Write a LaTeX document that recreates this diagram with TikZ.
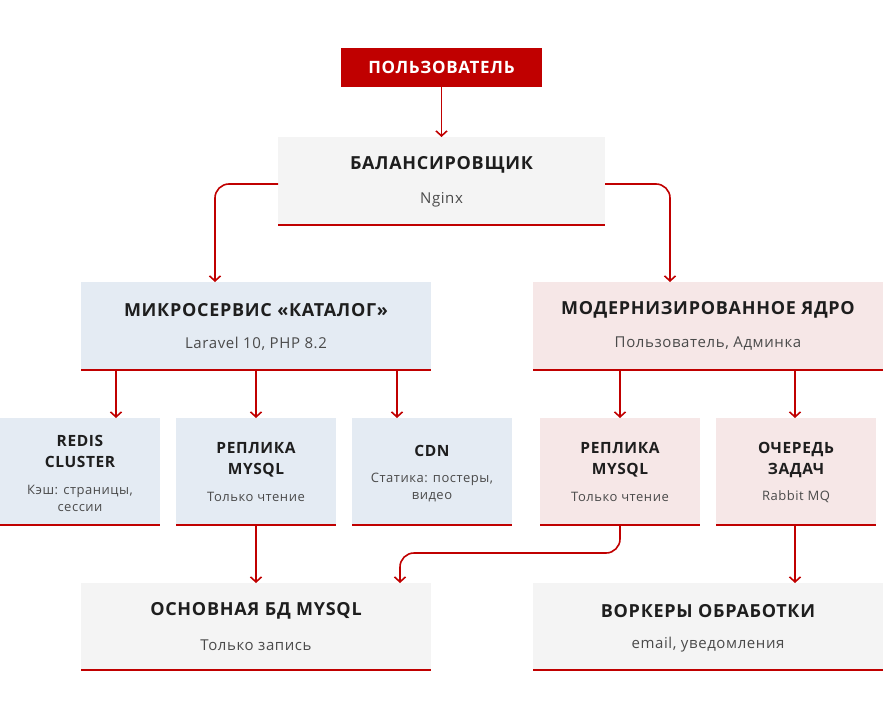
\documentclass[tikz,border=0pt]{standalone}
\usepackage{fontspec}
\setmainfont[LetterSpace=4]{Open Sans}
\usetikzlibrary{arrows.meta}
\definecolor{cred}{HTML}{C00000}
\definecolor{cgray}{HTML}{F4F4F4}
\definecolor{cblue}{HTML}{E4EBF3}
\definecolor{cpink}{HTML}{F6E7E7}
\definecolor{ctxt}{HTML}{1E1E1E}
\definecolor{csub}{HTML}{4A4A4A}
\begin{document}
\begin{tikzpicture}[x=1pt,y=-1pt,
  box/.style={draw=none,inner sep=0pt,align=center,text=ctxt},
  ttl/.style={font=\fontsize{18}{21}\selectfont\bfseries},
  sttl/.style={font=\fontsize{15.5}{21}\selectfont\bfseries},
  sub/.style={font=\fontsize{15}{18}\selectfont,text=csub},
  ssub/.style={font=\fontsize{13}{17}\selectfont,text=csub},
  arr/.style={draw=cred,line width=1.6pt,-{Straight Barb[length=5pt,width=11pt]},rounded corners=14pt}]
\useasboundingbox (0,0) rectangle (883,720);
\newcommand{\bx}[6]{% name,x1,y1,x2,y2,fill
  \fill[#6] (#2,#3) rectangle (#4,#5);
  \draw[cred,line width=2.5pt] (#2,#5) -- (#4,#5);
  \coordinate (#1) at ({(#2+#4)/2},{(#3+#5)/2});}
\node[fill=cred,text=white,minimum width=201pt,minimum height=39pt,font=\fontsize{17}{20}\selectfont\bfseries] (user) at (441.5,67.5) {ПОЛЬЗОВАТЕЛЬ};
\bx{bal}{278}{137}{605}{225}{cgray}
\bx{cat}{81}{282}{431}{370}{cblue}
\bx{core}{533}{282}{883}{370}{cpink}
\bx{redis}{0}{418}{160}{525}{cblue}
\bx{rep}{176}{418}{336}{525}{cblue}
\bx{cdn}{352}{418}{512}{525}{cblue}
\bx{rep2}{540}{418}{700}{525}{cpink}
\bx{queue}{716}{418}{876}{525}{cpink}
\bx{db}{81}{583}{431}{670}{cgray}
\bx{wk}{533}{583}{883}{670}{cgray}
\node[box,ttl] (balT) at (441.5,165) {БАЛАНСИРОВЩИК};
\node[box,sub] (balS) at (441.5,200) {Nginx};
\node[box,ttl] (catT) at (256,310) {МИКРОСЕРВИС «КАТАЛОГ»};
\node[box,sub] (catS) at (256,344) {Laravel 10, PHP 8.2};
\node[box,ttl] (coreT) at (708,310) {МОДЕРНИЗИРОВАННОЕ ЯДРО};
\node[box,sub] (coreS) at (708,344) {Пользователь, Админка};
\node[box,sttl] (redT) at (80,451) {REDIS\\CLUSTER};
\node[box,ssub] (redS) at (80,498) {Кэш: страницы,\\сессии};
\node[box,sttl] (repT) at (256,460) {РЕПЛИКА\\MYSQL};
\node[box,ssub] (repS) at (256,497) {Только чтение};
\node[box,sttl] (cdnT) at (432,451) {CDN};
\node[box,ssub] (cdnS) at (432,487) {Статика: постеры,\\видео};
\node[box,sttl] (rep2T) at (620,460) {РЕПЛИКА\\MYSQL};
\node[box,ssub] (rep2S) at (620,497) {Только чтение};
\node[box,sttl] (qT) at (796,460) {ОЧЕРЕДЬ\\ЗАДАЧ};
\node[box,ssub] (qS) at (796,497) {Rabbit MQ};
\node[box,ttl] (dbT) at (256,611) {ОСНОВНАЯ БД MYSQL};
\node[box,sub] (dbS) at (256,645) {Только запись};
\node[box,ttl] (wkT) at (708,611) {ВОРКЕРЫ ОБРАБОТКИ};
\node[box,sub] (wkS) at (708,645) {email, уведомления};
\coordinate (bL) at (278,184); \coordinate (bR) at (605,184);
\coordinate (catIn) at (215,282); \coordinate (coreIn) at (670,282);
\draw[arr] (user.south) -- (441.5,137);
\draw[arr] (bL) -| (catIn);
\draw[arr] (bR) -| (coreIn);
\foreach \xx in {116,256,397} \draw[arr] (\xx,371) -- (\xx,418);
\foreach \xx in {620,795} \draw[arr] (\xx,371) -- (\xx,418);
\draw[arr] (256,526) -- (256,583);
\draw[arr] (620,526) |- (400,553) -- (400,583);
\draw[arr] (795,526) -- (795,583);
\end{tikzpicture}
\end{document}
